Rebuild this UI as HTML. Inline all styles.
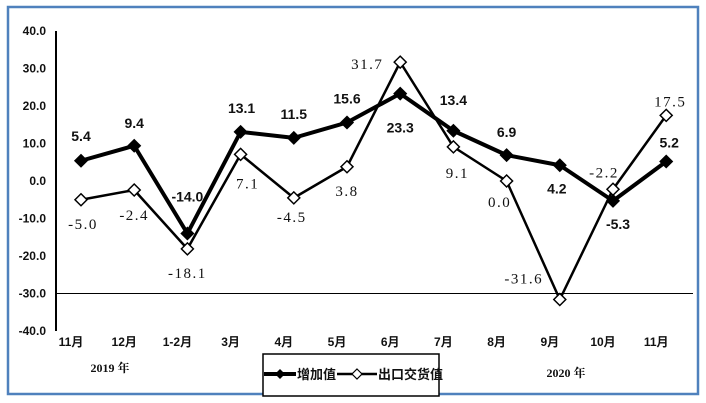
<!DOCTYPE html>
<html><head><meta charset="utf-8"><style>
body{margin:0;background:#fff}
svg{display:block}
.t{font-family:"Liberation Sans","Noto Sans CJK SC",sans-serif;font-weight:bold;font-size:12px;fill:#111}
.s{font-family:"Liberation Serif","Noto Serif CJK SC",serif;font-size:15px;fill:#111}
</style></head><body>
<svg id="c" width="706" height="403" xmlns="http://www.w3.org/2000/svg">
<rect x="8" y="7" width="690" height="387" fill="#fff" stroke="#4f81bd" stroke-width="2.5"/>
<g id="g"></g>
</svg>
<script>
const categories=["11月","12月","1-2月","3月","4月","5月","6月","7月","8月","9月","10月","11月"];
const addedValue=[5.4,9.4,-14.0,13.1,11.5,15.6,23.3,13.4,6.9,4.2,-5.3,5.2];
const exportValue=[-5.0,-2.4,-18.1,7.1,-4.5,3.8,31.7,9.1,0.0,-31.6,-2.2,17.5];
const yTicks=[40,30,20,10,0,-10,-20,-30,-40];
const NS="http://www.w3.org/2000/svg";
const g=document.getElementById("g");
function y(v){return 181-v*3.75;}
function x(i){return 81+i*53.2;}
function el(t,a,txt){const e=document.createElementNS(NS,t);for(const k in a)e.setAttribute(k,a[k]);if(txt!==undefined)e.textContent=txt;g.appendChild(e);return e;}
let ax=el("line",{x1:56,y1:y(40),x2:56,y2:y(-40),stroke:"#000","stroke-width":2});


let hl=el("line",{x1:56,y1:y(-30),x2:693,y2:y(-30),stroke:"#000","stroke-width":1});


yTicks.forEach(v=>{
  const t=el("text",{x:46,y:y(v)+4,"text-anchor":"end",class:"t"},v.toFixed(1));
  
  
});
categories.forEach((c,i)=>{
  const t=el("text",{x:x(i)-10,y:346,"text-anchor":"middle",class:"t"},c);
  
  
});
let y1=el("text",{x:110,y:372,"text-anchor":"middle",class:"t",style:"font-family:'Liberation Serif','Noto Serif CJK SC',serif"},"2019 年");


let y2=el("text",{x:566,y:377,"text-anchor":"middle",class:"t",style:"font-family:'Liberation Serif','Noto Serif CJK SC',serif"},"2020 年");


function series(vals,name,filled){
  const pts=vals.map((v,i)=>x(i)+","+y(v)).join(" ");
  const l=el("polyline",{points:pts,fill:"none",stroke:"#000","stroke-width":filled?4:2.5,"stroke-linejoin":"round"});
  
  
  vals.forEach((v,i)=>{
    const cx=x(i),cy=y(v),r=6;
    const m=el("polygon",{points:`${cx},${cy-r} ${cx+r},${cy} ${cx},${cy+r} ${cx-r},${cy}`,fill:filled?"#000":"#fff",stroke:"#000","stroke-width":1.5});
    
    
  });
}
series(exportValue,"export-value",false);
series(addedValue,"added-value",true);
const aOff=[[0,-20],[0,-18],[0,-32],[1,-19],[0,-19],[0,-19],[0,39],[0,-26],[0,-18],[-3,28],[5,28],[3,-14]];
const eOff=[[2,29],[0,30],[0,29],[7,34],[-2,24],[0,29],[-33,7],[4,31],[-7,26],[-36,-16],[-9,-12],[4,-9]];
addedValue.forEach((v,i)=>{
  const t=el("text",{x:x(i)+aOff[i][0],y:y(v)+aOff[i][1],"text-anchor":"middle",class:"t",style:"font-size:14px"},v.toFixed(1));
  
  
});
exportValue.forEach((v,i)=>{
  const t=el("text",{x:x(i)+eOff[i][0],y:y(v)+eOff[i][1],"text-anchor":"middle",class:"s","letter-spacing":"1.5"},v.toFixed(1));
  
  
});
let lb=el("rect",{x:263,y:354,width:176,height:42,fill:"#fff",stroke:"#000","stroke-width":1.5});


let l1=el("line",{x1:264,y1:374,x2:296,y2:374,stroke:"#000","stroke-width":4});


el("polygon",{points:"280,369 285,374 280,379 275,374",fill:"#000"});
let t1=el("text",{x:297,y:379,class:"t",style:"font-size:13px"},"增加值");


let l2=el("line",{x1:337,y1:374,x2:377,y2:374,stroke:"#000","stroke-width":2.5});


el("polygon",{points:"357,369 362,374 357,379 352,374",fill:"#fff",stroke:"#000","stroke-width":1.2});
let t2=el("text",{x:378,y:379,class:"t",style:"font-size:13px"},"出口交货值");


</script>
</body></html>
